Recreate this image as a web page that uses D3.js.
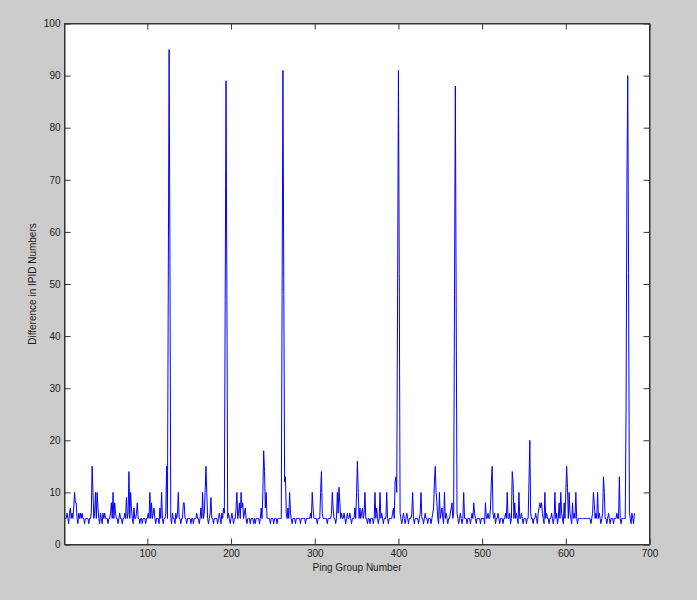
<!DOCTYPE html>
<html>
<head>
<meta charset="utf-8">
<script src="https://cdn.jsdelivr.net/npm/d3@7"></script>
<style>
  html, body { margin: 0; padding: 0; background: #cccccc; }
  svg { display: block; }
  text { font-family: "Liberation Sans", Arial, Helvetica, sans-serif; fill: #1a1a1a; }
</style>
</head>
<body>
<svg id="chart" width="697" height="600"></svg>
<script>
// Difference in IPID numbers per ping group (index 1..682)
const ipidDiff = [
  // 1-20
  5,5,5,6,5,4,6,7,5,6,5,7,10,8,8,5,4,6,5,6,
  // 21-40
  5,6,5,5,4,5,5,5,5,4,5,5,6,15,10,5,6,10,5,10,
  // 41-60
  7,5,4,6,5,4,6,5,6,5,5,5,4,5,5,6,8,5,10,5,
  // 61-80
  8,6,5,5,4,5,6,5,5,4,5,5,6,5,9,5,6,14,5,10,
  // 81-100
  7,5,4,7,5,5,6,8,5,5,4,5,5,4,5,5,5,4,5,5,
  // 101-120
  6,5,10,5,8,5,6,7,5,4,5,5,5,4,7,5,10,5,4,5,
  // 121-140
  5,6,15,5,50,95,54,5,4,6,5,5,4,6,5,6,10,5,5,4,
  // 141-160
  5,5,8,8,5,5,4,5,5,5,5,4,5,5,4,5,5,5,6,5,
  // 161-180
  5,4,5,7,5,10,5,6,10,15,10,5,4,5,6,9,5,5,4,5,
  // 181-200
  5,5,5,4,5,6,5,4,6,5,7,6,47,89,49,5,6,5,4,5,
  // 201-220
  6,5,4,5,5,7,10,5,6,8,5,10,7,8,5,6,7,5,4,5,
  // 221-240
  5,5,4,5,5,5,4,5,4,5,5,5,5,4,5,7,5,10,18,14,
  // 241-260
  7,10,5,5,5,5,4,5,5,5,4,5,5,5,4,5,5,5,5,5,
  // 261-280
  48,91,51,12,13,6,5,7,5,10,6,5,4,5,5,5,4,5,5,5,
  // 281-300
  5,5,4,5,5,5,5,5,4,5,5,5,5,5,6,5,10,7,5,5,
  // 301-320
  5,5,4,5,5,5,10,14,6,5,5,5,5,5,4,5,5,5,5,6,
  // 321-340
  10,7,5,5,4,5,10,6,11,8,5,6,5,5,6,5,4,5,6,5,
  // 341-360
  5,6,5,4,5,5,5,7,5,10,16,10,5,7,5,6,7,5,6,10,
  // 361-380
  5,5,4,5,5,4,5,5,5,4,5,10,5,7,5,4,5,10,5,6,
  // 381-400
  5,4,5,5,5,10,5,4,5,5,5,5,6,7,5,12,13,10,48,91,
  // 401-420
  52,6,5,4,5,6,5,4,5,6,5,4,5,5,5,6,10,5,4,5,
  // 421-440
  5,5,5,4,5,6,10,5,5,4,5,6,5,5,4,5,5,5,4,5,
  // 441-460
  6,7,12,15,10,8,5,4,10,5,6,7,5,4,10,5,6,5,4,5,
  // 461-480
  5,6,7,8,5,6,48,88,46,6,5,4,5,6,5,4,5,10,5,5,
  // 481-500
  5,4,5,5,5,4,5,6,5,8,6,5,4,5,5,5,5,4,5,5,
  // 501-520
  5,5,4,8,5,5,6,5,5,7,12,15,6,5,6,4,5,5,6,5,
  // 521-540
  4,5,5,5,4,5,5,6,5,10,5,5,6,4,5,14,12,5,8,5,
  // 541-560
  6,5,4,10,5,5,6,5,4,5,5,5,4,5,5,12,20,6,5,5,
  // 561-580
  4,5,5,6,5,4,6,7,8,7,8,6,5,4,10,5,6,5,5,4,
  // 581-600
  5,5,6,5,4,5,10,5,6,4,5,8,5,10,6,5,4,8,5,10,
  // 601-620
  15,11,5,10,6,5,4,8,5,6,5,10,5,4,5,5,5,5,5,5,
  // 621-640
  5,5,5,5,5,5,5,5,5,4,5,6,10,8,5,6,5,10,5,6,
  // 641-660
  5,4,5,6,13,10,5,5,4,5,6,5,4,5,5,5,4,5,5,5,
  // 661-682
  6,5,5,13,5,4,5,5,5,5,5,26,69,90,52,6,5,4,6,5,4,6
];
const xTicks = [100, 200, 300, 400, 500, 600, 700];
const yTicks = [0, 10, 20, 30, 40, 50, 60, 70, 80, 90, 100];
const xLabel = "Ping Group Number";
const yLabel = "Difference in IPID Numbers";

const svg = d3.select("#chart");
const pLeft = 64.5, pRight = 649.5, pTop = 23.5, pBottom = 544.5;

const x = d3.scaleLinear().domain([1, 700]).range([pLeft, pRight]);
const y = d3.scaleLinear().domain([0, 100]).range([pBottom, pTop]);

svg.append("rect").attr("x", pLeft).attr("y", pTop)
  .attr("width", pRight - pLeft).attr("height", pBottom - pTop)
  .attr("fill", "#ffffff");

const line = d3.line().x((d, i) => x(i + 1)).y(d => y(d));
svg.append("path").datum(ipidDiff)
  .attr("fill", "none").attr("stroke", "#0000ff").attr("stroke-width", 1)
  .attr("d", line);

const tickLen = 6;
const axisColor = "#333333";
const fontSize = 10;

const gb = svg.append("g").attr("transform", `translate(0,${pBottom})`)
  .call(d3.axisBottom(x).tickValues(xTicks).tickSizeInner(-tickLen).tickSizeOuter(0).tickPadding(5));
const gt = svg.append("g").attr("transform", `translate(0,${pTop})`)
  .call(d3.axisTop(x).tickValues(xTicks).tickSizeInner(-tickLen).tickSizeOuter(0).tickFormat(""));
const gl = svg.append("g").attr("transform", `translate(${pLeft},0)`)
  .call(d3.axisLeft(y).tickValues(yTicks).tickSizeInner(-tickLen).tickSizeOuter(0).tickPadding(4));
const gr = svg.append("g").attr("transform", `translate(${pRight},0)`)
  .call(d3.axisRight(y).tickValues(yTicks).tickSizeInner(-tickLen).tickSizeOuter(0).tickFormat(""));

[gb, gt, gl, gr].forEach(g => {
  g.selectAll(".domain").attr("stroke", axisColor);
  g.selectAll(".tick line").attr("stroke", axisColor);
  g.selectAll("text").attr("font-size", fontSize).attr("fill", "#1a1a1a")
    .attr("font-family", "'Liberation Sans', Arial, sans-serif");
});

svg.append("rect").attr("x", pLeft).attr("y", pTop)
  .attr("width", pRight - pLeft).attr("height", pBottom - pTop)
  .attr("fill", "none").attr("stroke", axisColor).attr("stroke-width", 1);

svg.append("text").attr("x", (pLeft + pRight) / 2).attr("y", 571)
  .attr("text-anchor", "middle").attr("font-size", fontSize).text(xLabel);
svg.append("text")
  .attr("transform", `translate(36,${(pTop + pBottom) / 2}) rotate(-90)`)
  .attr("text-anchor", "middle").attr("font-size", fontSize).text(yLabel);
</script>
</body>
</html>
